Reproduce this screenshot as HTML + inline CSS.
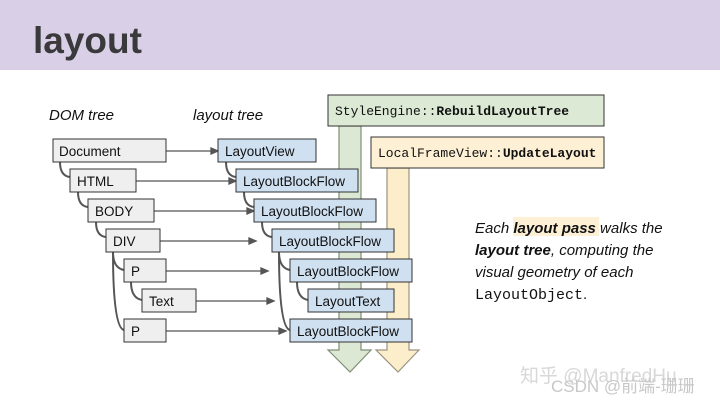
<!DOCTYPE html>
<html><head><meta charset="utf-8"><style>
html,body{margin:0;padding:0;background:#fff}
body{width:720px;height:405px;overflow:hidden;position:relative;font-family:"Liberation Sans",sans-serif}
</style></head><body>
<svg width="720" height="405" viewBox="0 0 720 405" xmlns="http://www.w3.org/2000/svg">
<rect x="0" y="0" width="720" height="70" fill="#d9d0e7"/>
<text x="33" y="53" font-family="Liberation Sans" font-weight="bold" font-size="37" fill="#3a3a3c">layout</text>
<text x="49" y="120" font-family="Liberation Sans" font-style="italic" font-size="15" fill="#111">DOM tree</text>
<text x="193" y="120" font-family="Liberation Sans" font-style="italic" font-size="15" fill="#111">layout tree</text>

<polygon points="339,126 361,126 361,350 371,350 350,372 328,350 339,350" fill="#dde8d4" stroke="#7f8f76" stroke-width="1.2"/>
<polygon points="387,168 409,168 409,350 419,350 398,372 376,350 387,350" fill="#fdeecb" stroke="#9a9482" stroke-width="1.2"/>
<rect x="328" y="95" width="276" height="31" fill="#dce9d5" stroke="#333" stroke-width="1"/>
<text x="335" y="115" font-family="Liberation Mono" font-size="13" fill="#111">StyleEngine::<tspan font-weight="bold">RebuildLayoutTree</tspan></text>
<rect x="371" y="137" width="233" height="31" fill="#fdf0d5" stroke="#333" stroke-width="1"/>
<text x="378" y="157" font-family="Liberation Mono" font-size="13" fill="#111">LocalFrameView::<tspan font-weight="bold">UpdateLayout</tspan></text>

<g fill="none" stroke="#555" stroke-width="2">
<path d="M60,162 Q60,176 70,177"/>
<path d="M78,192 Q78,206 88,207"/>
<path d="M96,222 Q96,236 106,237"/>
<path d="M113,252 Q113,268 124,270"/>
<path d="M113,252 Q113,328 124,330"/>
<path d="M131,282 Q131,298 142,300"/>
<path d="M226,162 Q226,176 236,177"/>
<path d="M244,192 Q244,206 254,207"/>
<path d="M262,222 Q262,236 272,237"/>
<path d="M279,252 Q279,268 290,270"/>
<path d="M279,252 Q279,328 290,330"/>
<path d="M297,282 Q297,298 308,300"/>
</g>
<g stroke="#555" stroke-width="1.3" fill="#555">
<line x1="166" y1="151" x2="212" y2="151"/><polygon points="218,151 211,148 211,154"/>
<line x1="136" y1="181" x2="230" y2="181"/><polygon points="236,181 229,178 229,184"/>
<line x1="154" y1="211" x2="248" y2="211"/><polygon points="254,211 247,208 247,214"/>
<line x1="160" y1="241" x2="250" y2="241"/><polygon points="256,241 249,238 249,244"/>
<line x1="166" y1="271" x2="262" y2="271"/><polygon points="268,271 261,268 261,274"/>
<line x1="196" y1="301" x2="268" y2="301"/><polygon points="274,301 267,298 267,304"/>
<line x1="166" y1="331" x2="280" y2="331"/><polygon points="286,331 279,328 279,334"/>
</g>
<g stroke="#333" stroke-width="1" fill="#efefef">
<rect x="53" y="139" width="113" height="23"/>
<rect x="70" y="169" width="66" height="23"/>
<rect x="88" y="199" width="66" height="23"/>
<rect x="106" y="229" width="54" height="23"/>
<rect x="124" y="259" width="42" height="23"/>
<rect x="142" y="289" width="54" height="23"/>
<rect x="124" y="319" width="42" height="23"/>
</g>
<g stroke="#333" stroke-width="1" fill="#cfe0f1">
<rect x="218" y="139" width="98" height="23"/>
<rect x="236" y="169" width="122" height="23"/>
<rect x="254" y="199" width="122" height="23"/>
<rect x="272" y="229" width="122" height="23"/>
<rect x="290" y="259" width="122" height="23"/>
<rect x="308" y="289" width="86" height="23"/>
<rect x="290" y="319" width="122" height="23"/>
</g>
<g font-family="Liberation Sans" font-size="13.5" fill="#111">
<text x="59" y="156">Document</text>
<text x="77" y="186">HTML</text>
<text x="95" y="216">BODY</text>
<text x="113" y="246">DIV</text>
<text x="131" y="276">P</text>
<text x="149" y="306">Text</text>
<text x="131" y="336">P</text>
<text x="225" y="156">LayoutView</text>
<text x="243" y="186">LayoutBlockFlow</text>
<text x="261" y="216">LayoutBlockFlow</text>
<text x="279" y="246">LayoutBlockFlow</text>
<text x="297" y="276">LayoutBlockFlow</text>
<text x="315" y="306">LayoutText</text>
<text x="297" y="336">LayoutBlockFlow</text>
</g>
<rect x="513" y="217" width="86" height="19" fill="#fdf0d5"/>
<g font-family="Liberation Sans" font-size="15" font-style="italic" fill="#111">
<text x="475" y="233">Each <tspan font-weight="bold">layout pass</tspan> walks the</text>
<text x="475" y="255"><tspan font-weight="bold">layout tree</tspan>, computing the</text>
<text x="475" y="277">visual geometry of each</text>
</g>
<text x="475" y="299" font-family="Liberation Mono" font-size="15" fill="#111">LayoutObject<tspan font-family="Liberation Sans">.</tspan></text>
<text x="520" y="382" font-family="Liberation Sans, Noto Sans CJK SC, sans-serif" font-size="19" fill="#d8d8d8">知乎 @ManfredHu</text>
<text x="551" y="392" font-family="Liberation Sans, Noto Sans CJK SC, sans-serif" font-size="17" fill="#c8c8c8">CSDN @前端-珊珊</text>
</svg>
</body></html>
